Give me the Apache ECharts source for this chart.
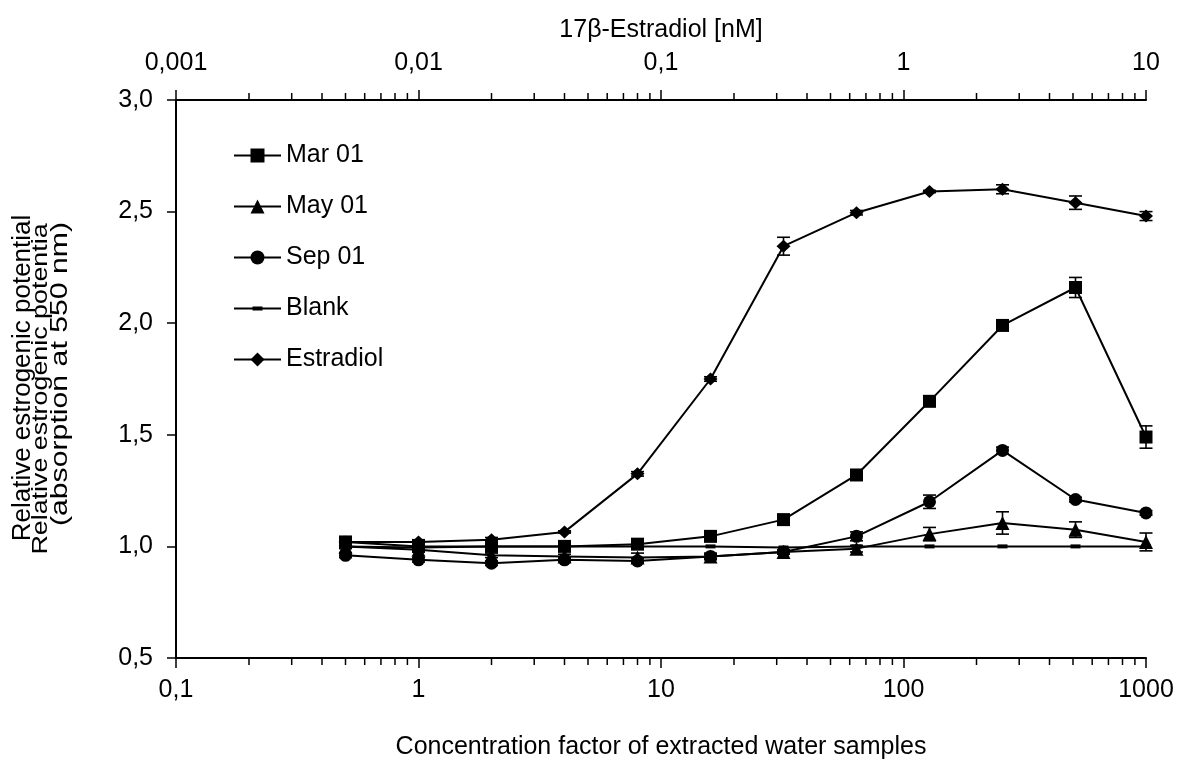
<!DOCTYPE html>
<html>
<head>
<meta charset="utf-8">
<script src="https://cdn.jsdelivr.net/npm/echarts@6/dist/echarts.min.js"></script>
<style>
html,body{margin:0;padding:0;background:#fff;}
#chart{width:1182px;height:775px;}
</style>
</head>
<body>
<div id="chart"></div>
<script>
// ---- data ----
var concFactor = [0.5, 1, 2, 4, 8, 16, 32, 64, 128, 256, 512, 1000];
var seriesNames = ['Mar 01', 'May 01', 'Sep 01', 'Blank', 'Estradiol'];
var mar01      = [1.02, 1.00, 1.00, 1.00, 1.01, 1.045, 1.12, 1.32, 1.65, 1.99, 2.16, 1.49];
var mar01Err   = [0.01, 0.01, 0.01, 0.01, 0.01, 0.01, 0.01, 0.015, 0.015, 0.01, 0.045, 0.05];
var may01      = [1.00, 0.985, 0.96, 0.955, 0.95, 0.955, 0.975, 0.99, 1.055, 1.105, 1.075, 1.02];
var may01Err   = [0.01, 0.01, 0.01, 0.01, 0.02, 0.015, 0.01, 0.015, 0.03, 0.05, 0.035, 0.04];
var sep01      = [0.96, 0.94, 0.925, 0.94, 0.935, 0.955, 0.975, 1.045, 1.20, 1.43, 1.21, 1.15];
var sep01Err   = [0.01, 0.01, 0.01, 0.01, 0.01, 0.01, 0.01, 0.02, 0.03, 0.015, 0.01, 0.01];
var blank      = [1.00, 0.995, 1.00, 1.00, 1.00, 1.00, 0.995, 1.00, 1.00, 1.00, 1.00, 1.00];
var blankErr   = [0, 0, 0, 0, 0, 0, 0, 0, 0, 0, 0, 0];
var estradiol  = [1.02, 1.02, 1.03, 1.065, 1.325, 1.75, 2.345, 2.495, 2.59, 2.60, 2.54, 2.48];
var estradiolErr = [0.01, 0.01, 0.01, 0.005, 0.01, 0.01, 0.04, 0.01, 0.005, 0.02, 0.03, 0.02];

var bottomMinorTicks = [0.2,0.3,0.4,0.5,0.6,0.7,0.8,0.9, 2,3,4,5,6,7,8,9, 20,30,40,50,60,70,80,90, 200,300,400,500,600,700,800,900];
var topMinorTicks = [0.002,0.003,0.004,0.005,0.006,0.007,0.008,0.009, 0.02,0.03,0.04,0.05,0.06,0.07,0.08,0.09, 0.2,0.3,0.4,0.5,0.6,0.7,0.8,0.9, 2,3,4,5,6,7,8,9];

var yMin = 0.5, yMax = 3.0, yStep = 0.5;
var xMin = 0.1, xMax = 1000;
var x2Min = 0.001, x2Max = 10;

var xAxisTitle = 'Concentration factor of extracted water samples';
var x2AxisTitle = '17\u03B2-Estradiol [nM]';
var yTitle1 = 'Relative estrogenic potential';
var yTitle2 = 'Relative estrogenic potentia';
var yTitle3 = '(absorption at 550 nm)';

// ---- chart ----
var FONT = '"Liberation Sans", Arial, sans-serif';
var chart = echarts.init(document.getElementById('chart'));

function fmtComma(v) {
  return String(parseFloat(Number(v).toPrecision(6))).replace('.', ',');
}
function pairs(xs, ys) { return xs.map(function (x, i) { return [x, ys[i]]; }); }
function triples(xs, ys, es) { return xs.map(function (x, i) { return [x, ys[i], es[i]]; }); }

function errRender(params, api) {
  var x = api.value(0), y = api.value(1), e = api.value(2);
  if (!e) return null;
  var t = api.coord([x, y + e]), b = api.coord([x, y - e]);
  var hw = 6.5;
  var st = { stroke: '#000', lineWidth: 1.6 };
  return { type: 'group', children: [
    { type: 'line', shape: { x1: t[0], y1: t[1], x2: b[0], y2: b[1] }, style: st },
    { type: 'line', shape: { x1: t[0] - hw, y1: t[1], x2: t[0] + hw, y2: t[1] }, style: st },
    { type: 'line', shape: { x1: b[0] - hw, y1: b[1], x2: b[0] + hw, y2: b[1] }, style: st }
  ]};
}
function minorRender(dir, yRef) {
  return function (params, api) {
    var p = api.coord([api.value(0), yRef]);
    return { type: 'line', shape: { x1: p[0], y1: p[1], x2: p[0], y2: p[1] + dir * 7 },
             style: { stroke: '#000', lineWidth: 1.5 } };
  };
}

var symbols = {
  'Mar 01': { symbol: 'rect', size: 13 },
  'May 01': { symbol: 'triangle', size: 14 },
  'Sep 01': { symbol: 'circle', size: 13 },
  'Blank': { symbol: 'rect', size: [10, 4] },
  'Estradiol': { symbol: 'diamond', size: [14, 13] }
};
var values = { 'Mar 01': mar01, 'May 01': may01, 'Sep 01': sep01, 'Blank': blank, 'Estradiol': estradiol };
var errs = { 'Mar 01': mar01Err, 'May 01': may01Err, 'Sep 01': sep01Err, 'Blank': blankErr, 'Estradiol': estradiolErr };

var series = [];
seriesNames.forEach(function (n) {
  series.push({
    name: n + ' err', type: 'custom', renderItem: errRender, silent: true,
    xAxisIndex: 0, yAxisIndex: 0, encode: { x: 0, y: 1 }, z: 3,
    data: triples(concFactor, values[n], errs[n])
  });
});
seriesNames.forEach(function (n) {
  series.push({
    name: n, type: 'line', xAxisIndex: 0, yAxisIndex: 0,
    data: pairs(concFactor, values[n]),
    symbol: symbols[n].symbol, symbolSize: symbols[n].size, showAllSymbol: true,
    lineStyle: { color: '#000', width: 2 },
    itemStyle: { color: '#000' },
    z: 4
  });
});
series.push({
  type: 'custom', silent: true, clip: false, xAxisIndex: 0, yAxisIndex: 0,
  renderItem: minorRender(1, yMin), encode: { x: 0, y: 1 },
  data: bottomMinorTicks.map(function (v) { return [v, yMin]; })
});
series.push({
  type: 'custom', silent: true, clip: false, xAxisIndex: 1, yAxisIndex: 0,
  renderItem: minorRender(-1, yMax), encode: { x: 0, y: 1 },
  data: topMinorTicks.map(function (v) { return [v, yMax]; })
});

var blankIcon = 'path://M0,0 L0.01,0 L0,0.01 Z M47,17.5 L46.99,17.5 L47,17.49 Z M0,7.75 L47,7.75 L47,9.75 L0,9.75 Z M18.5,6.75 L28.5,6.75 L28.5,10.75 L18.5,10.75 Z';

var axisLineStyle = { color: '#000', width: 2 };
var option = {
  animation: false,
  backgroundColor: '#fff',
  textStyle: { fontFamily: FONT, color: '#000' },
  grid: { left: 176, right: 36, top: 100, bottom: 117, containLabel: false, outerBoundsMode: 'none' },
  legend: {
    orient: 'vertical', left: 233, top: 143, padding: 0,
    itemWidth: 47, itemHeight: 17.5, itemGap: 26, itemTextGap: 8,
    textStyle: { fontFamily: FONT, fontSize: 25, color: '#000', lineHeight: 25 },
    data: ['Mar 01', 'May 01', 'Sep 01', { name: 'Blank', icon: blankIcon }, 'Estradiol'],
    selectedMode: false
  },
  xAxis: [
    {
      type: 'log', logBase: 10, min: xMin, max: xMax, interval: 1, position: 'bottom',
      name: xAxisTitle, nameLocation: 'middle', nameGap: 77,
      nameTextStyle: { fontFamily: FONT, fontSize: 25, color: '#000' },
      axisLine: { show: true, onZero: false, lineStyle: axisLineStyle },
      axisTick: { show: true, inside: false, length: 10, lineStyle: { color: '#000', width: 1.5 } },
      minorTick: { show: false },
      axisLabel: { fontFamily: FONT, fontSize: 25, color: '#000', margin: 20, formatter: fmtComma },
      splitLine: { show: false }
    },
    {
      type: 'log', logBase: 10, min: x2Min, max: x2Max, interval: 1, position: 'top',
      name: x2AxisTitle, nameLocation: 'middle', nameGap: 57,
      nameTextStyle: { fontFamily: FONT, fontSize: 25, color: '#000' },
      axisLine: { show: true, onZero: false, lineStyle: axisLineStyle },
      axisTick: { show: true, inside: false, length: 10, lineStyle: { color: '#000', width: 1.5 } },
      minorTick: { show: false },
      axisLabel: { fontFamily: FONT, fontSize: 25, color: '#000', margin: 24, formatter: fmtComma },
      splitLine: { show: false }
    }
  ],
  yAxis: [{
    type: 'value', min: yMin, max: yMax, interval: yStep,
    axisLine: { show: true, onZero: false, lineStyle: axisLineStyle },
    axisTick: { show: true, inside: false, length: 9, lineStyle: { color: '#000', width: 1.5 } },
    axisLabel: { fontFamily: FONT, fontSize: 25, color: '#000', margin: 23,
      formatter: function (v) { return Number(v).toFixed(1).replace('.', ','); } },
    splitLine: { show: false }
  }],
  graphic: [
    { type: 'text', x: 23, y: 378, rotation: Math.PI / 2, scaleX: 1.04, silent: true,
      style: { text: yTitle1, fontFamily: FONT, fontSize: 25, fill: '#000', align: 'center', verticalAlign: 'middle' } },
    { type: 'text', x: 41, y: 389, rotation: Math.PI / 2, scaleX: 1.22, silent: true,
      style: { text: yTitle2, fontFamily: FONT, fontSize: 22, fill: '#000', align: 'center', verticalAlign: 'middle' } },
    { type: 'text', x: 60, y: 374, rotation: Math.PI / 2, scaleX: 1.26, silent: true,
      style: { text: yTitle3, fontFamily: FONT, fontSize: 24, fill: '#000', align: 'center', verticalAlign: 'middle' } }
  ],
  series: series
};
chart.setOption(option);
</script>
</body>
</html>
